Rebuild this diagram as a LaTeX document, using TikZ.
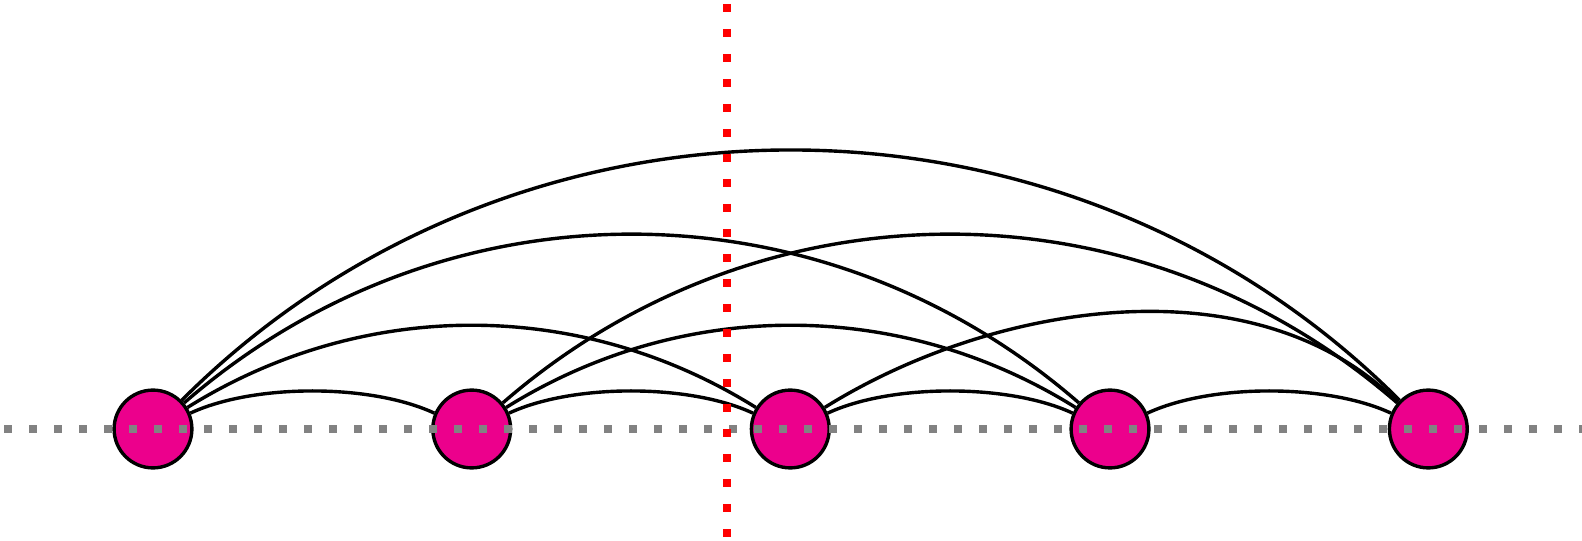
\documentclass[tikz,border=0pt]{standalone}
\begin{document}
\begin{tikzpicture}[x=0.5pt,y=0.5pt,
  vert/.style={circle,draw=black,line width=1.7pt,fill=nodepink,minimum size=38.9pt,inner sep=0pt},
  edge/.style={draw=black,line width=1.7pt},
  grayline/.style={draw=dotgray,line width=4.15pt,dash pattern=on 4.15pt off 8.35pt},
  redline/.style={draw=red,line width=4.15pt,dash pattern=on 4.15pt off 8.35pt}]
\definecolor{nodepink}{RGB}{236,0,140}
\definecolor{dotgray}{RGB}{130,130,130}
\useasboundingbox (0,0) rectangle (1582,540);
\node[vert] (n1) at (153,111) {};
\node[vert] (n2) at (471.7,111) {};
\node[vert] (n3) at (790.3,111) {};
\node[vert] (n4) at (1110,111) {};
\node[vert] (n5) at (1428.3,111) {};
% adjacent
\draw[edge] (n1.23) .. controls +(25:70) and +(155:70) .. (n2.157);
\draw[edge] (n2.23) .. controls +(25:70) and +(155:70) .. (n3.157);
\draw[edge] (n3.23) .. controls +(25:70) and +(155:70) .. (n4.157);
\draw[edge] (n4.23) .. controls +(25:70) and +(155:70) .. (n5.157);
% distance two
\draw[edge] (n1.32) .. controls +(32:207) and +(148:207) .. (n3.148);
\draw[edge] (n2.32) .. controls +(32:207) and +(148:207) .. (n4.148);
\draw[edge] (n3.32) .. controls +(32:200) and +(135:200) .. (n5.139);
% distance three
\draw[edge] (n1.40) .. controls +(41:343) and +(139:343) .. (n4.140);
\draw[edge] (n2.40) .. controls +(41:343) and +(139:343) .. (n5.140);
% distance four
\draw[edge] (n1.45) .. controls +(45:472) and +(135:472) .. (n5.135);
% guide lines
\coordinate (gl) at (4,111);
\coordinate (gr) at (1582,111);
\draw[grayline] (gl) -- (gr);
\coordinate (rt) at (727,536);
\coordinate (rb) at (727,0);
\draw[redline] (rt) -- (rb);
\end{tikzpicture}
\end{document}
